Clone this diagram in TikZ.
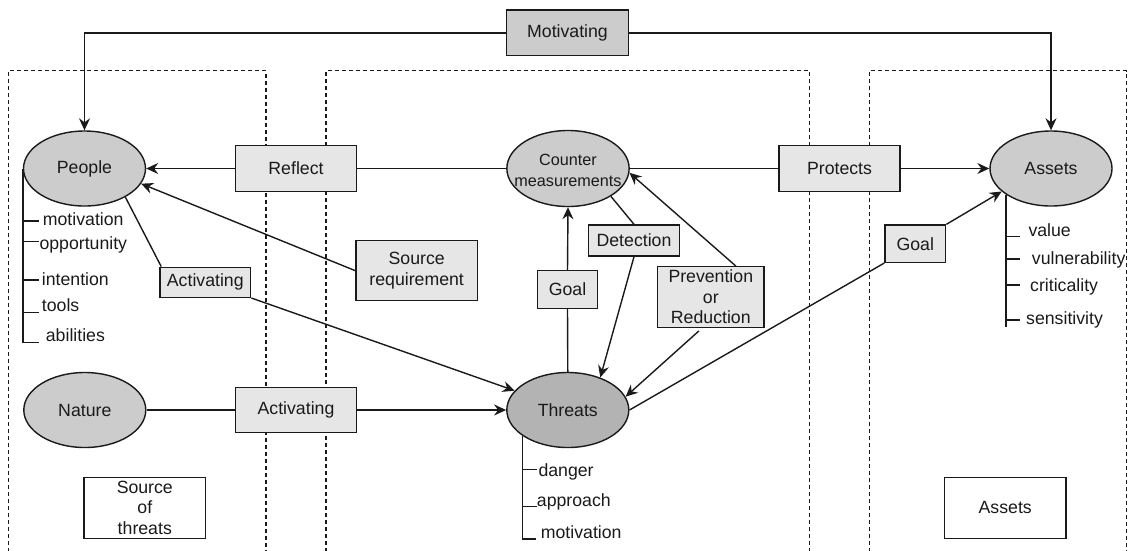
\documentclass[tikz,border=0pt]{standalone}
\usepackage{fontspec}
\setmainfont{Liberation Sans}
\usetikzlibrary{arrows.meta,shapes.geometric,calc}
\definecolor{entity}{HTML}{CCCCCC}
\definecolor{threatfill}{HTML}{B3B3B3}
\definecolor{labelfill}{HTML}{E6E6E6}
\definecolor{ink}{HTML}{1A1A1A}

\begin{document}
\begin{tikzpicture}[x=1pt,y=-1pt,
  every node/.style={text=ink, font=\fontsize{17.7}{20.5}\selectfont},
  entitynode/.style={ellipse, draw=ink, line width=1.4pt, fill=entity,
    minimum width=122pt, minimum height=75pt, inner sep=0pt, align=center},
  tag/.style={rectangle, draw=ink, line width=1.4pt, fill=labelfill,
    inner sep=0pt, align=center},
  note/.style={rectangle, draw=ink, line width=1.4pt, fill=white, inner sep=0pt,
    align=center, minimum width=121.7pt, minimum height=61pt},
  attr/.style={anchor=west, inner sep=0pt},
  link/.style={draw=ink, line width=1.4pt},
  arr/.style={link, -{Stealth[length=12pt,width=11pt,inset=4pt]}},
  zone/.style={draw=ink, line width=1.1pt, dash pattern=on 4pt off 3pt},
]
\useasboundingbox (0,0) rectangle (1131,550);

% three zones, open at the bottom
\draw[zone] (8.3,552) |- (266,70.7) -- (266,552);
\draw[zone] (326,552) |- (809.3,70.7) -- (809.3,552);
\draw[zone] (869.3,552) |- (1126.7,70.7) -- (1126.7,552);

% entities
\node[entitynode] (people) at (84.5,168.5) {People};
\node[entitynode, minimum width=122.3pt, minimum height=76pt] (counter) at (568,168.5) {};
\node[inner sep=0pt, align=center, font=\fontsize{16.2}{21.7}\selectfont]
  (countertext) at (568,170.5) {Counter\\measurements};
\node[entitynode] (assets) at (1051,168.5) {Assets};
\node[entitynode] (nature) at (84.8,410) {Nature};
\node[entitynode, fill=threatfill] (threats) at (567.8,410) {Threats};

% relation labels
\node[tag, fill=entity, minimum width=121.6pt, minimum height=45.7pt] (motiv) at (567.5,32.8) {Motivating};
\node[tag, minimum width=121.4pt, minimum height=45.7pt] (reflect) at (296,168.5) {Reflect};
\node[tag, minimum width=121pt, minimum height=45.7pt] (protects) at (839.5,168.5) {Protects};
\node[tag, minimum width=90.7pt, minimum height=30pt] (act2) at (205.3,282.3) {Activating};
\node[tag, minimum width=121.3pt, minimum height=60pt] (srcreq) at (416.7,270.7) {Source\\requirement};
\node[tag, minimum width=60.4pt, minimum height=37.6pt] (goalc) at (567.5,289.5) {Goal};
\node[tag, minimum width=90.6pt, minimum height=31pt] (detect) at (634,240.5) {Detection};
\node[tag, minimum width=106.3pt, minimum height=60.6pt] (prev) at (710.8,297) {Prevention\\or\\Reduction};
\node[tag, minimum width=60.7pt, minimum height=37.3pt] (goala) at (915.3,243.7) {Goal};
\node[tag, minimum width=121.4pt, minimum height=44.6pt] (act1) at (296,410) {Activating};

% zone captions
\node[note] (srcthreats) at (144.8,507.8) {Source\\of\\threats};
\node[note] (assetsnote) at (1005.2,507.8) {Assets};

% attributes of people
\node[attr] (pa1) at (42.7,219) {motivation};
\node[attr] (pa2) at (39.3,245) {opportunity};
\node[attr] (pa3) at (41.7,279) {intention};
\node[attr] (pa4) at (41.7,305) {tools};
\node[attr] (pa5) at (45.7,335) {abilities};
\draw[link] (people.west) |- (39,342.7);
\foreach \y in {221,241.7,280,312.7} \draw[link] (24,\y) -- (39,\y);

% attributes of assets
\node[attr] (aa1) at (1028.3,230) {value};
\node[attr] (aa2) at (1031.7,260) {vulnerability};
\node[attr] (aa3) at (1030,287.3) {criticality};
\node[attr] (aa4) at (1026,320) {sensitivity};
\draw[link] (assets.210) -- (assets.210 |- 0,326.7);
\foreach \y in {236.7,259,285,320} \draw[link] (assets.210 |- 0,\y) -- (1020,\y);

% attributes of threats
\node[attr] (ta1) at (538.3,471.7) {danger};
\node[attr] (ta2) at (536.7,501.7) {approach};
\node[attr] (ta3) at (540.7,531.7) {motivation};
\draw[link] (threats.210) |- (536,539);
\foreach \y in {469.3,506.7} \draw[link] (threats.210 |- 0,\y) -- (536.7,\y);

% connectors
\draw[arr] (motiv.west) -| (people.north);
\draw[arr] (motiv.east) -| (assets.north);
\draw[link] (counter.west) -- (reflect.east);
\draw[arr] (reflect.west) -- (people.east);
\draw[link] (counter.east) -- (protects.west);
\draw[arr] (protects.east) -- (assets.west);
\draw[link] (nature.east) -- (act1.west);
\draw[arr] (act1.east) -- (threats.west);
\draw[link] (threats.north) -- (goalc.south);
\draw[arr] (goalc.north) -- (counter.south);
\draw[link] (counter.-33) -- (detect.north);
\draw[arr] (detect.south) -- (threats.45);
\draw[arr] ([xshift=25pt]prev.north) -- (counter.-4);
\draw[arr] ([xshift=-12pt,yshift=-3pt]prev.south) -- (threats.13);
\draw[link] (threats.east) -- (goala.south west);
\draw[arr] (goala.north east) -- (assets.205);
\draw[link] (people.-35) -- ([xshift=2pt]act2.north west);
\draw[arr] (act2.south east) -- (threats.160);
\draw[arr] (srcreq.west) -- (people.-15);
\end{tikzpicture}
\end{document}
